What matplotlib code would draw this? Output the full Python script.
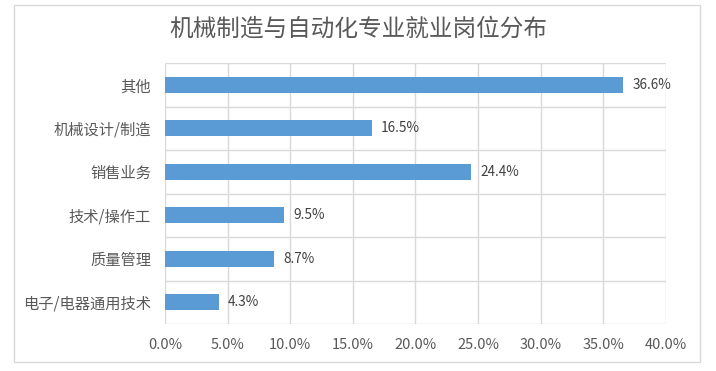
import matplotlib.pyplot as plt
from matplotlib.patches import Rectangle

plt.rcParams['font.family'] = ['Noto Sans CJK SC', 'DejaVu Sans']

# 数据
categories = ['其他', '机械设计/制造', '销售业务', '技术/操作工', '质量管理', '电子/电器通用技术']
values = [36.6, 16.5, 24.4, 9.5, 8.7, 4.3]
xticks = [0, 5, 10, 15, 20, 25, 30, 35, 40]

fig = plt.figure(figsize=(7.16, 3.71), dpi=100)
ax = fig.add_axes([0.2304, 0.1267, 0.6997, 0.7033])

# 外边框
fig.patches.append(Rectangle((14 / 716, 1 - 362 / 371), 686 / 716, 357 / 371,
                             transform=fig.transFigure, fill=False,
                             edgecolor='#d9d9d9', linewidth=1))

y = list(range(len(categories)))
ax.barh(y, values, height=0.37, color='#5b9bd5', zorder=3)
for yi, v in zip(y, values):
    ax.text(v + 0.75, yi, f'{v:.1f}%', va='center', ha='left', fontsize=9.8, color='#404040')

ax.set_ylim(len(categories) - 0.5, -0.5)
ax.set_xlim(0, 40)
ax.set_yticks(y)
ax.set_yticklabels(categories, fontsize=11, color='#595959')
ax.set_xticks(xticks)
ax.set_xticklabels([f'{t:.1f}%' for t in xticks], fontsize=10.5, color='#595959')

# 网格：竖线在刻度，横线在类别边界
for t in xticks:
    ax.axvline(t, color='#d9d9d9', linewidth=1, zorder=1)
for b in [i - 0.5 for i in range(len(categories) + 1)]:
    ax.axhline(b, color='#d9d9d9', linewidth=1, zorder=1)

for s in ax.spines.values():
    s.set_visible(False)
ax.tick_params(length=0)
ax.tick_params(axis='y', pad=10)
ax.tick_params(axis='x', pad=10)

fig.text(0.5, 1 - 29 / 371, '机械制造与自动化专业就业岗位分布', ha='center', va='center',
         fontsize=17, color='#595959')

plt.savefig('out.png', dpi=100)
